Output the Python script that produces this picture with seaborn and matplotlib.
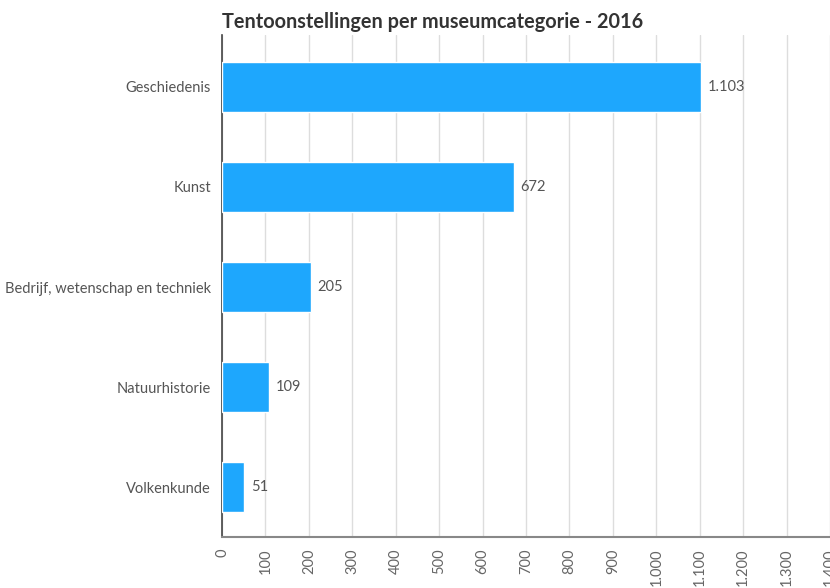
import matplotlib
matplotlib.use("Agg")
import matplotlib.pyplot as plt
import seaborn as sns
import pandas as pd
from matplotlib.ticker import FuncFormatter

categories = ["Geschiedenis", "Kunst", "Bedrijf, wetenschap en techniek",
              "Natuurhistorie", "Volkenkunde"]
values = [1103, 672, 205, 109, 51]
x_ticks = list(range(0, 1500, 100))

df = pd.DataFrame({"categorie": categories, "aantal": values})

sns.set_style("white")
plt.rcParams["font.family"] = ["Lato", "DejaVu Sans"]

fig = plt.figure(figsize=(8.3, 5.88), dpi=100)
ax = fig.add_axes([0.2675, 0.0867, 0.7325, 0.8538])

sns.barplot(data=df, x="aantal", y="categorie", color="#1ea7fd",
            saturation=1, width=0.5, ax=ax, zorder=3)

# value labels, dutch thousands separator
for p, v in zip(ax.patches, values):
    ax.text(p.get_width() + 15, p.get_y() + p.get_height() / 2,
            f"{v:,}".replace(",", "."), va="center", ha="left",
            fontsize=10.5, color="#555555")

ax.set_xlim(0, 1400)
ax.set_ylim(4.5, -0.52)
ax.set_xticks(x_ticks)
ax.xaxis.set_major_formatter(FuncFormatter(lambda x, _: f"{int(x):,}".replace(",", ".")))
ax.tick_params(axis="x", labelrotation=90, labelsize=10.5, labelcolor="#666666",
               length=0, pad=8)
ax.tick_params(axis="y", labelsize=10.5, labelcolor="#555555", length=0, pad=8)
ax.set_yticks([-0.52, 4.5], minor=True)
ax.tick_params(axis="y", which="minor", length=7, width=1.2, color="#555555")

ax.grid(axis="x", color="#dddddd", linewidth=1, zorder=0)
ax.set_axisbelow(True)
for side in ["top", "right"]:
    ax.spines[side].set_visible(False)
ax.spines["left"].set_color("#444444")
ax.spines["left"].set_linewidth(1.2)
ax.spines["bottom"].set_color("#888888")
ax.spines["bottom"].set_linewidth(1.5)
ax.set_xlabel("")
ax.set_ylabel("")

fig.text(0.2675, 0.963, "Tentoonstellingen per museumcategorie - 2016",
         fontsize=14.3, fontweight="bold", color="#333333", ha="left", va="center")

fig.savefig("out.png", dpi=100)
